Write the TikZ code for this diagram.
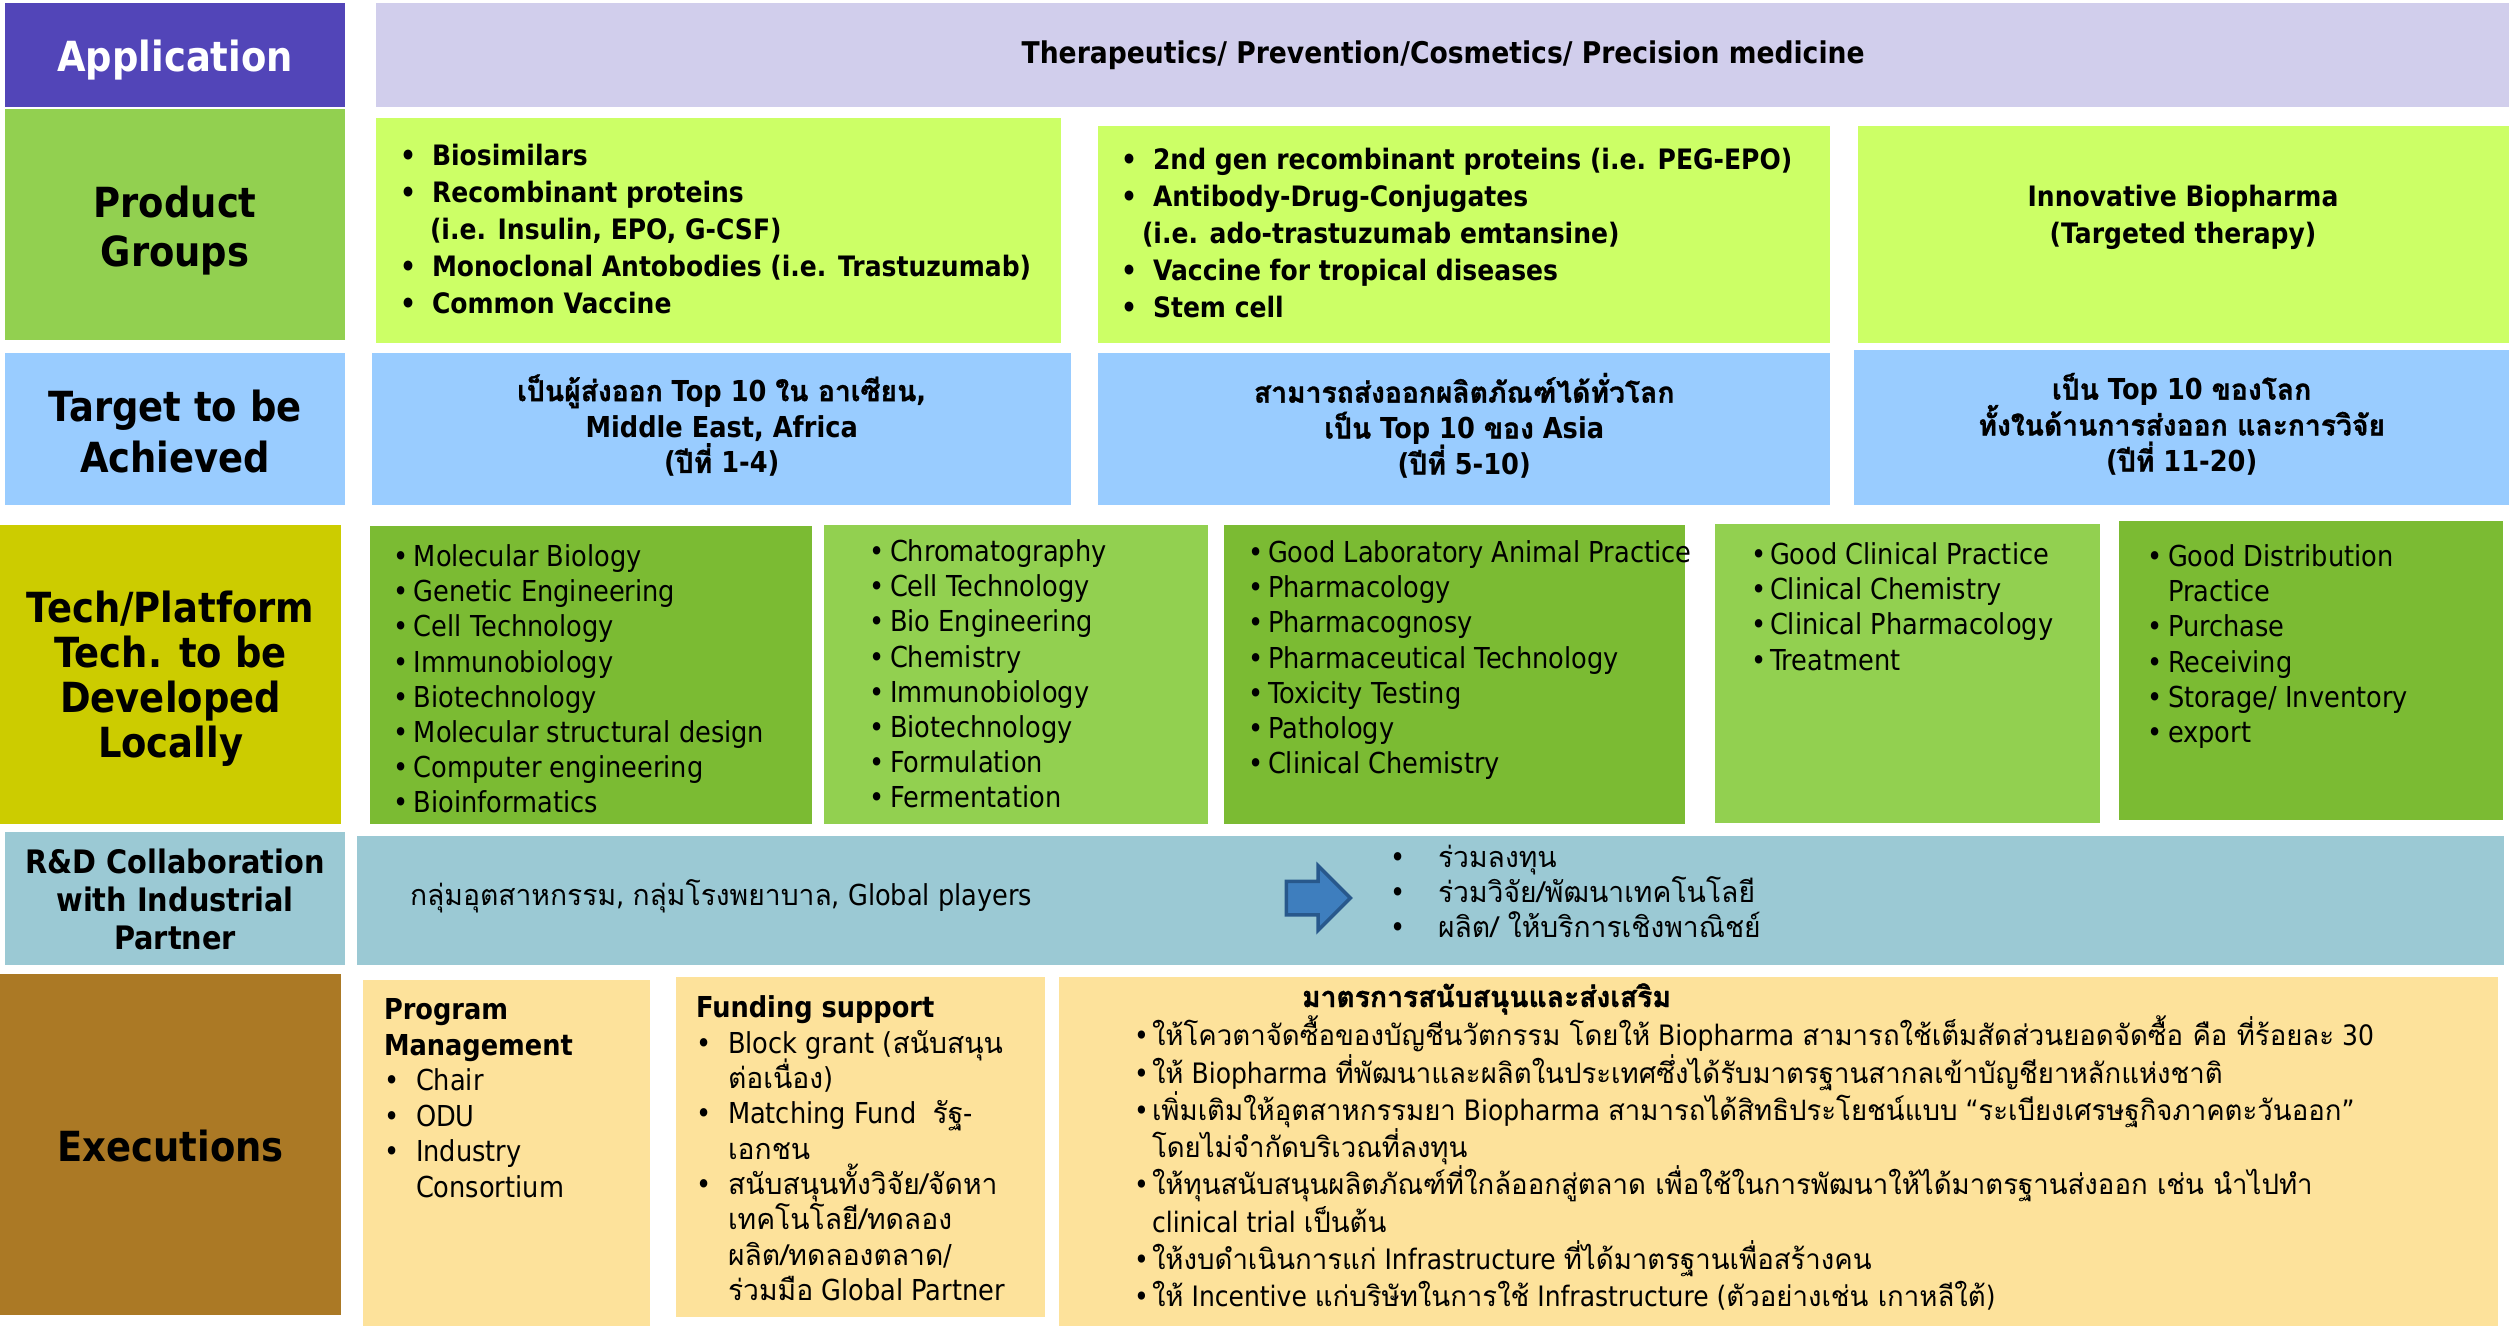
\documentclass[tikz,border=0pt]{standalone}
\usepackage{fontspec}
\setmainfont[FakeStretch=0.89]{DejaVu Sans}
\newfontfamily\thaifont[Script=Thai, FakeStretch=0.98, BoldFeatures={FakeBold=1.2}]{Loma}
\newcommand{\thai}[1]{{\thaifont #1}}
\newcommand{\itm}[2]{\strut\makebox[#1][l]{\textbullet}#2}
\newcommand{\cont}[2]{\strut\hspace*{#1}#2}
\lineskiplimit=-\maxdimen
\usetikzlibrary{positioning,shapes.arrows}

\definecolor{appblue}{RGB}{82,69,184}
\definecolor{applight}{RGB}{209,206,236}
\definecolor{prodgreen}{RGB}{146,208,80}
\definecolor{prodlime}{RGB}{204,255,102}
\definecolor{targetblue}{RGB}{153,204,255}
\definecolor{techolive}{RGB}{204,204,0}
\definecolor{techdark}{RGB}{123,187,51}
\definecolor{techlight}{RGB}{146,208,80}
\definecolor{rdteal}{RGB}{155,201,212}
\definecolor{execbrown}{RGB}{171,121,37}
\definecolor{execcream}{RGB}{253,226,155}
\definecolor{arrowblue}{RGB}{62,126,190}
\definecolor{arrowedge}{RGB}{40,88,140}

\tikzset{
  cell/.style={rectangle, inner sep=0pt, outer sep=0pt, anchor=north west, align=center},
  head/.style={cell, text depth=0pt, font=\fontsize{11.8}{13.5}\selectfont\bfseries},
  target/.style={cell, font=\fontsize{8.2}{10.2}\selectfont\bfseries},
  list/.style={inner sep=0pt, outer sep=0pt, anchor=north west, align=left},
  techlist/.style={list, font=\fontsize{8.2}{10}\selectfont},
  prodlist/.style={list, font=\fontsize{8}{10.5}\selectfont\bfseries},
}

\begin{document}
\begin{tikzpicture}[x=0.01cm, y=-0.01cm]
  \useasboundingbox
    [fill=white]
    (0,0) rectangle (2509,1326);

  \node (app head)
    [head, fill=appblue, text=white, minimum width=3.40cm, minimum height=1.04cm]
    at (5,3) {\strut Application};
  \node (app box)
    [cell, fill=applight, minimum width=21.33cm, minimum height=1.04cm,
     font=\fontsize{8.5}{10}\selectfont\bfseries]
    at (376,3) {Therapeutics/ Prevention/Cosmetics/ Precision medicine};

  \node (prod head)
    [head, fill=prodgreen, minimum width=3.40cm, minimum height=2.31cm,
     font=\fontsize{11.8}{14}\selectfont\bfseries]
    at (5,109) {\strut Product\\\strut Groups};
  \node (prod box1)
    [cell, fill=prodlime, minimum width=6.85cm, minimum height=2.25cm]
    at (376,118) {};
  \node (prod box2)
    [cell, fill=prodlime, minimum width=7.32cm, minimum height=2.17cm]
    at (1098,126) {};
  \node (prod box3)
    [cell, fill=prodlime, minimum width=6.51cm, minimum height=2.17cm]
    at (1858,126) {};
  \node (prod list1)
    [prodlist]
    at (400,140) {%
      \itm{0.32cm}{Biosimilars}\\
      \itm{0.32cm}{Recombinant proteins}\\
      \cont{0.30cm}{(i.e. Insulin, EPO, G-CSF)}\\
      \itm{0.32cm}{Monoclonal Antobodies (i.e. Trastuzumab)}\\
      \itm{0.32cm}{Common Vaccine}};
  \node (prod list2)
    [prodlist]
    at (1121,144) {%
      \itm{0.32cm}{2nd gen recombinant proteins (i.e. PEG-EPO)}\\
      \itm{0.32cm}{Antibody-Drug-Conjugates}\\
      \cont{0.21cm}{(i.e. ado-trastuzumab emtansine)}\\
      \itm{0.32cm}{Vaccine for tropical diseases}\\
      \itm{0.32cm}{Stem cell}};
  \node (prod text3)
    [prodlist, anchor=center, align=center]
    at (2183,218) {\strut Innovative Biopharma\\\strut(Targeted therapy)};

  \node (target head)
    [head, fill=targetblue, minimum width=3.40cm, minimum height=1.52cm,
     font=\fontsize{11.8}{14.6}\selectfont\bfseries]
    at (5,353) {\strut Target to be\\\strut Achieved};
  \node (target box1)
    [target, fill=targetblue, minimum width=6.99cm, minimum height=1.52cm]
    at (372,353) {\strut\thai{เป็นผู้ส่งออก} Top 10 \thai{ใน อาเซียน},\\
      \strut Middle East, Africa\\
      \strut(\thai{ปีที่} 1-4)};
  \node (target box2)
    [target, fill=targetblue, minimum width=7.32cm, minimum height=1.52cm]
    at (1098,353) {\strut\thai{สามารถส่งออกผลิตภัณฑ์ได้ทั่วโลก}\\
      \strut\thai{เป็น} Top 10 \thai{ของ} Asia\\
      \strut(\thai{ปีที่} 5-10)};
  \node (target box3)
    [target, fill=targetblue, minimum width=6.55cm, minimum height=1.55cm]
    at (1854,350) {\strut\thai{เป็น} Top 10 \thai{ของโลก}\\
      \strut\thai{ทั้งในด้านการส่งออก และการวิจัย}\\
      \strut(\thai{ปีที่} 11-20)};

  \node (tech head)
    [head, fill=techolive, minimum width=3.41cm, minimum height=2.99cm,
     font=\fontsize{11.8}{12.8}\selectfont\bfseries]
    at (0,525) {\strut Tech/Platform\\\strut Tech. to be\\\strut Developed\\\strut Locally};
  \node (tech box1)
    [cell, fill=techdark, minimum width=4.42cm, minimum height=2.98cm]
    at (370,526) {};
  \node (tech box2)
    [cell, fill=techlight, minimum width=3.84cm, minimum height=2.99cm]
    at (824,525) {};
  \node (tech box3)
    [cell, fill=techdark, minimum width=4.61cm, minimum height=2.99cm]
    at (1224,525) {};
  \node (tech box4)
    [cell, fill=techlight, minimum width=3.85cm, minimum height=2.99cm]
    at (1715,524) {};
  \node (tech box5)
    [cell, fill=techdark, minimum width=3.84cm, minimum height=2.99cm]
    at (2119,521) {};
  \node (tech list1)
    [techlist]
    at (393,542) {%
      \itm{0.21cm}{Molecular Biology}\\
      \itm{0.21cm}{Genetic Engineering}\\
      \itm{0.21cm}{Cell Technology}\\
      \itm{0.21cm}{Immunobiology}\\
      \itm{0.21cm}{Biotechnology}\\
      \itm{0.21cm}{Molecular structural design}\\
      \itm{0.21cm}{Computer engineering}\\
      \itm{0.21cm}{Bioinformatics}};
  \node (tech list2)
    [techlist]
    at (869,537) {%
      \itm{0.21cm}{Chromatography}\\
      \itm{0.21cm}{Cell Technology}\\
      \itm{0.21cm}{Bio Engineering}\\
      \itm{0.21cm}{Chemistry}\\
      \itm{0.21cm}{Immunobiology}\\
      \itm{0.21cm}{Biotechnology}\\
      \itm{0.21cm}{Formulation}\\
      \itm{0.21cm}{Fermentation}};
  \node (tech list3)
    [techlist]
    at (1248,538) {%
      \itm{0.20cm}{Good Laboratory Animal Practice}\\
      \itm{0.20cm}{Pharmacology}\\
      \itm{0.20cm}{Pharmacognosy}\\
      \itm{0.20cm}{Pharmaceutical Technology}\\
      \itm{0.20cm}{Toxicity Testing}\\
      \itm{0.20cm}{Pathology}\\
      \itm{0.20cm}{Clinical Chemistry}};
  \node (tech list4)
    [techlist]
    at (1751,540) {%
      \itm{0.19cm}{Good Clinical Practice}\\
      \itm{0.19cm}{Clinical Chemistry}\\
      \itm{0.19cm}{Clinical Pharmacology}\\
      \itm{0.19cm}{Treatment}};
  \node (tech list5)
    [techlist]
    at (2147,542) {%
      \itm{0.21cm}{Good Distribution}\\
      \cont{0.21cm}{Practice}\\
      \itm{0.21cm}{Purchase}\\
      \itm{0.21cm}{Receiving}\\
      \itm{0.21cm}{Storage/ Inventory}\\
      \itm{0.21cm}{export}};

  \node (rd head)
    [head, fill=rdteal, minimum width=3.40cm, minimum height=1.33cm,
     font=\fontsize{9.2}{10.8}\selectfont\bfseries]
    at (5,832) {\strut R\&D Collaboration\\\strut with Industrial\\\strut Partner};
  \node (rd box)
    [cell, fill=rdteal, minimum width=21.46cm, minimum height=1.29cm]
    at (357,836) {};
  \node (rd partners)
    [list, anchor=base west, font=\fontsize{8.2}{10}\selectfont]
    at (410,905) {\thai{กลุ่มอุตสาหกรรม}, \thai{กลุ่มโรงพยาบาล}, Global players};
  \node (rd arrow)
    [single arrow, fill=arrowblue, draw=arrowedge, line width=1pt,
     inner xsep=0pt, inner ysep=0.15cm, outer sep=0pt,
     minimum height=0.64cm, single arrow head extend=0.155cm]
    at (1310,898) {};
  \node (rd list)
    [techlist]
    at (1390,843) {%
      \itm{0.48cm}{\thai{ร่วมลงทุน}}\\
      \itm{0.48cm}{\thai{ร่วมวิจัย/พัฒนาเทคโนโลยี}}\\
      \itm{0.48cm}{\thai{ผลิต/ ให้บริการเชิงพาณิชย์}}};

  \node (exec head)
    [head, fill=execbrown, minimum width=3.41cm, minimum height=3.41cm]
    at (0,974) {\strut Executions};
  \node (prog box)
    [cell, fill=execcream, minimum width=2.87cm, minimum height=3.46cm]
    at (363,980) {};
  \node (fund box)
    [cell, fill=execcream, minimum width=3.69cm, minimum height=3.40cm]
    at (676,977) {};
  \node (measure box)
    [cell, fill=execcream, minimum width=14.38cm, minimum height=3.49cm]
    at (1059,977) {};
  \node (prog list)
    [list, font=\fontsize{8.2}{10.1}\selectfont]
    at (384,995) {%
      \strut\textbf{Program}\\
      \strut\textbf{Management}\\
      \itm{0.32cm}{Chair}\\
      \itm{0.32cm}{ODU}\\
      \itm{0.32cm}{Industry}\\
      \cont{0.32cm}{Consortium}};
  \node (fund list)
    [list, font=\fontsize{8.2}{10.05}\selectfont]
    at (696,993) {%
      \strut\textbf{Funding support}\\
      \itm{0.32cm}{Block grant (\thai{สนับสนุน}}\\
      \cont{0.32cm}{\thai{ต่อเนื่อง})}\\
      \itm{0.32cm}{Matching Fund\ \ \thai{รัฐ}-}\\
      \cont{0.32cm}{\thai{เอกชน}}\\
      \itm{0.32cm}{\thai{สนับสนุนทั้งวิจัย/จัดหา}}\\
      \cont{0.32cm}{\thai{เทคโนโลยี/ทดลอง}}\\
      \cont{0.32cm}{\thai{ผลิต/ทดลองตลาด}/}\\
      \cont{0.32cm}{\thai{ร่วมมือ} Global Partner}};
  \node (measure title)
    [list, anchor=base west, font=\fontsize{8.2}{10}\selectfont\bfseries]
    at (1302,1007) {\thai{มาตรการสนับสนุนและส่งเสริม}};
  \node (measure list)
    [list, font=\fontsize{8}{10.6}\selectfont]
    at (1134,1016) {%
      \itm{0.18cm}{\thai{ให้โควตาจัดซื้อของบัญชีนวัตกรรม โดยให้} Biopharma \thai{สามารถใช้เต็มสัดส่วนยอดจัดซื้อ คือ ที่ร้อยละ} 30}\\
      \itm{0.18cm}{\thai{ให้} Biopharma \thai{ที่พัฒนาและผลิตในประเทศซึ่งได้รับมาตรฐานสากลเข้าบัญชียาหลักแห่งชาติ}}\\
      \itm{0.18cm}{\thai{เพิ่มเติมให้อุตสาหกรรมยา} Biopharma \thai{สามารถได้สิทธิประโยชน์แบบ} “\thai{ระเบียงเศรษฐกิจภาคตะวันออก}”}\\
      \cont{0.18cm}{\thai{โดยไม่จำกัดบริเวณที่ลงทุน}}\\
      \itm{0.18cm}{\thai{ให้ทุนสนับสนุนผลิตภัณฑ์ที่ใกล้ออกสู่ตลาด เพื่อใช้ในการพัฒนาให้ได้มาตรฐานส่งออก เช่น นำไปทำ}}\\
      \cont{0.18cm}{clinical trial \thai{เป็นต้น}}\\
      \itm{0.18cm}{\thai{ให้งบดำเนินการแก่} Infrastructure \thai{ที่ได้มาตรฐานเพื่อสร้างคน}}\\
      \itm{0.18cm}{\thai{ให้} Incentive \thai{แก่บริษัทในการใช้} Infrastructure (\thai{ตัวอย่างเช่น เกาหลีใต้})}};
\end{tikzpicture}
\end{document}
